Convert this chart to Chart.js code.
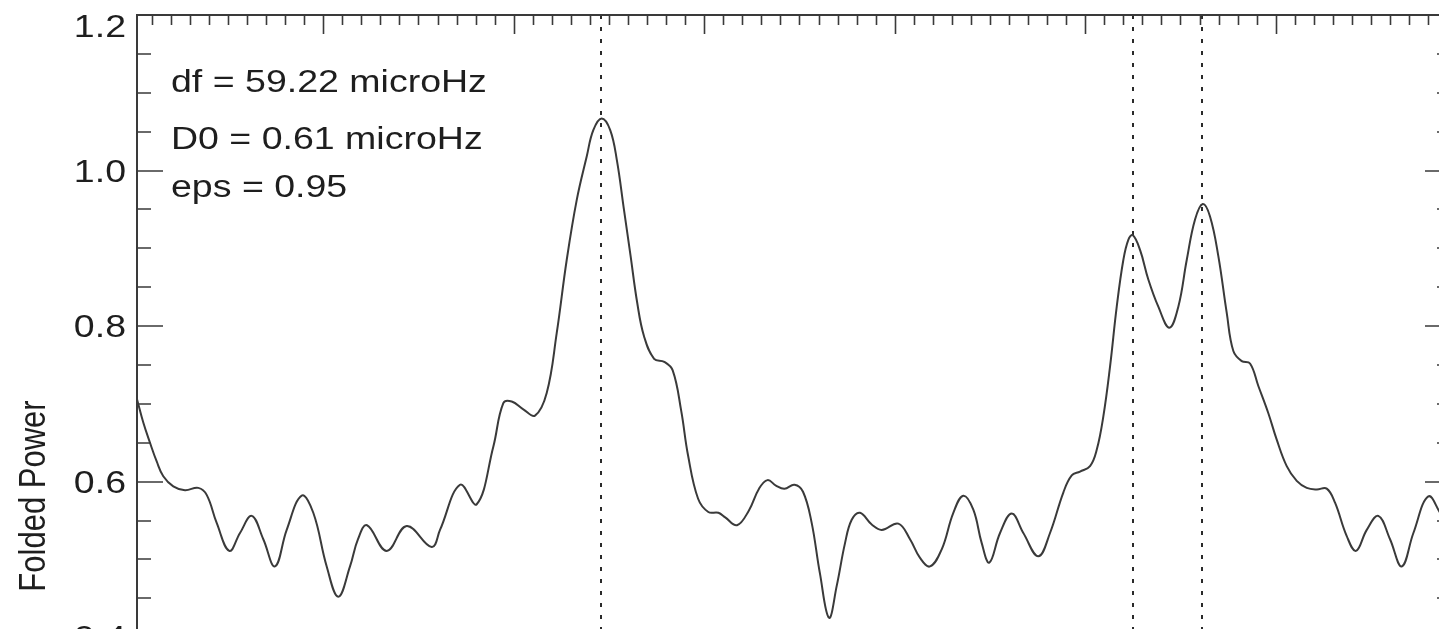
<!DOCTYPE html>
<html>
<head>
<meta charset="utf-8">
<script src="https://cdn.jsdelivr.net/npm/chart.js@4.4.1/dist/chart.umd.min.js"></script>
<style>
  html, body { margin: 0; padding: 0; background: #fff; overflow: hidden; }
  #wrap { width: 1439px; height: 629px; overflow: hidden; position: relative; }
  #chartFolded { position: absolute; left: 0; top: 0; }
</style>
</head>
<body>
<div id="wrap"><canvas id="chartFolded" width="1470" height="760"></canvas></div>
<script>
// folded spectrum, frequency in microHz (axis offset unknown), power
const freq = [0.226,0.556,0.908,1.260,1.606,2.131,2.745,3.444,3.884,4.409,
  5.071,5.633,6.247,6.856,7.470,8.084,8.871,9.480,10.184,10.793,
  11.407,11.827,12.299,13.333,14.383,15.696,16.131,17.181,18.058,18.929,
  19.454,19.895,20.504,21.118,21.732,22.257,22.782,23.307,23.832,24.178,
  24.619,25.066,25.417,25.774,26.131,26.483,26.840,27.370,27.905,28.346,
  28.793,29.150,29.680,30.215,30.745,31.102,31.722,32.346,32.877,33.323,
  33.764,34.210,34.740,35.186,35.633,36.074,36.551,36.955,37.391,37.742,
  38.178,38.793,39.318,40.189,40.803,41.328,41.853,42.467,43.076,43.601,
  44.126,44.567,44.966,45.528,46.142,46.751,47.538,48.152,48.850,49.291,
  49.727,50.252,50.604,50.951,51.302,51.654,52.000,52.262,52.493,52.877,
  53.312,53.837,54.415,54.887,55.328,55.764,56.168,56.551,56.987,57.428,
  57.775,58.215,58.651,59.087,59.612,60.052,60.577,61.102,61.627,62.152,
  62.677,63.113,63.727,64.215,64.777,65.386,66.000,66.614,67.226,68.010,
  68.677];

const power = [0.706,0.676,0.650,0.626,0.607,0.594,0.589,0.592,0.583,0.547,
  0.511,0.534,0.556,0.526,0.491,0.538,0.582,0.560,0.491,0.452,
  0.491,0.526,0.544,0.511,0.543,0.516,0.538,0.596,0.571,0.645,
  0.701,0.703,0.693,0.685,0.714,0.791,0.885,0.962,1.018,1.052,
  1.067,1.052,1.013,0.952,0.891,0.830,0.787,0.758,0.754,0.743,
  0.691,0.634,0.578,0.561,0.560,0.554,0.544,0.563,0.591,0.602,
  0.595,0.591,0.596,0.587,0.548,0.482,0.425,0.466,0.521,0.551,
  0.560,0.545,0.538,0.546,0.526,0.502,0.491,0.513,0.560,0.582,
  0.564,0.521,0.496,0.534,0.559,0.534,0.504,0.534,0.586,0.608,
  0.613,0.620,0.641,0.684,0.748,0.825,0.885,0.911,0.917,0.898,
  0.860,0.825,0.798,0.825,0.885,0.937,0.957,0.941,0.890,0.817,
  0.768,0.755,0.752,0.723,0.688,0.654,0.620,0.601,0.592,0.590,
  0.591,0.573,0.530,0.511,0.538,0.556,0.526,0.491,0.534,0.581,
  0.558];

const peakFreqs = [24.59, 52.49, 56.13];
const yTickLabels = ['0.4', '0.6', '0.8', '1.0', '1.2'];
const notes = ['df = 59.22 microHz', 'D0 = 0.61 microHz', 'eps = 0.95'];
const yTitle = 'Folded Power';

const FONT = '31px "Liberation Sans", Arial, sans-serif';
const SX = 1.21; // text in the source is stretched sideways
const INK = '#1e1e1e';

function stretchedText(ctx, txt, x, y, align) {
    ctx.save();
    ctx.translate(x, y);
    ctx.scale(SX, 1);
    ctx.textAlign = align;
    ctx.textBaseline = 'alphabetic';
    ctx.fillText(txt, 0, 0);
    ctx.restore();
}

// IDL style frame: box, inward ticks, dotted peak markers, labels
const idlFrame = {
    id: 'idlFrame',
    beforeDatasetsDraw(chart) {
        const { ctx, chartArea: a, scales: { x } } = chart;
        ctx.save();
        ctx.strokeStyle = '#2a2a2a';
        ctx.lineWidth = 2;
        ctx.setLineDash([4, 8]);
        peakFreqs.forEach(f => {
            const px = Math.round(x.getPixelForValue(f));
            ctx.beginPath();
            ctx.moveTo(px, a.top);
            ctx.lineTo(px, a.bottom);
            ctx.stroke();
        });
        ctx.restore();
    },
    afterDatasetsDraw(chart) {
        const { ctx, chartArea: a, scales: { x, y } } = chart;
        ctx.save();
        ctx.strokeStyle = '#3a3a3a';
        ctx.lineWidth = 2;
        ctx.strokeRect(a.left, a.top, a.right - a.left, a.bottom - a.top);

        ctx.lineWidth = 1.6;
        ctx.beginPath();
        for (let k = Math.ceil(y.min * 20); k <= Math.floor(y.max * 20); k++) {
            const py = Math.round(y.getPixelForValue(k / 20));
            const len = (k % 4 === 0) ? 26 : 14;
            ctx.moveTo(a.left, py); ctx.lineTo(a.left + len, py);
            ctx.moveTo(a.right, py); ctx.lineTo(a.right - len, py);
        }
        for (let f = Math.ceil(x.min); f <= Math.floor(x.max); f++) {
            const px = Math.round(x.getPixelForValue(f)) + 0.5;
            const len = (f % 10 === 0) ? 19 : 10;
            ctx.moveTo(px, a.top); ctx.lineTo(px, a.top + len);
            ctx.moveTo(px, a.bottom); ctx.lineTo(px, a.bottom - len);
        }
        ctx.stroke();
        ctx.restore();
    },
    afterDraw(chart) {
        const { ctx, chartArea: a, scales: { y } } = chart;
        ctx.save();
        ctx.font = FONT;
        ctx.fillStyle = INK;

        yTickLabels.forEach(lab => {
            const py = y.getPixelForValue(parseFloat(lab));
            const base = Math.max(py + 11, a.top + 22);
            stretchedText(ctx, lab, a.left - 11, base, 'right');
        });

        const noteBase = [92, 149, 197];
        notes.forEach((t, i) => stretchedText(ctx, t, a.left + 34, noteBase[i], 'left'));

        ctx.save();
        ctx.translate(45, 496);
        ctx.rotate(-Math.PI / 2);
        ctx.scale(1, SX);
        ctx.textAlign = 'center';
        ctx.textBaseline = 'alphabetic';
        ctx.fillText(yTitle, 0, 0);
        ctx.restore();

        ctx.restore();
    }
};

new Chart(document.getElementById('chartFolded'), {
    type: 'line',
    data: {
        datasets: [{
            data: freq.map((f, i) => ({ x: f, y: power[i] })),
            borderColor: '#3a3a3a',
            borderWidth: 2,
            pointRadius: 0,
            fill: false,
            tension: 0.4
        }]
    },
    options: {
        responsive: false,
        animation: false,
        devicePixelRatio: 1,
        layout: { padding: { left: 0, top: 15, right: 19, bottom: 45 } },
        plugins: { legend: { display: false }, tooltip: { enabled: false } },
        scales: {
            x: {
                type: 'linear', min: 0.226, max: 69.2,
                ticks: { display: false }, grid: { display: false }, border: { display: false },
                afterFit: s => { s.height = 0; }
            },
            y: {
                min: 0.3, max: 1.2,
                ticks: { display: false }, grid: { display: false }, border: { display: false },
                afterFit: s => { s.width = 137; }
            }
        }
    },
    plugins: [idlFrame]
});
</script>
</body>
</html>
